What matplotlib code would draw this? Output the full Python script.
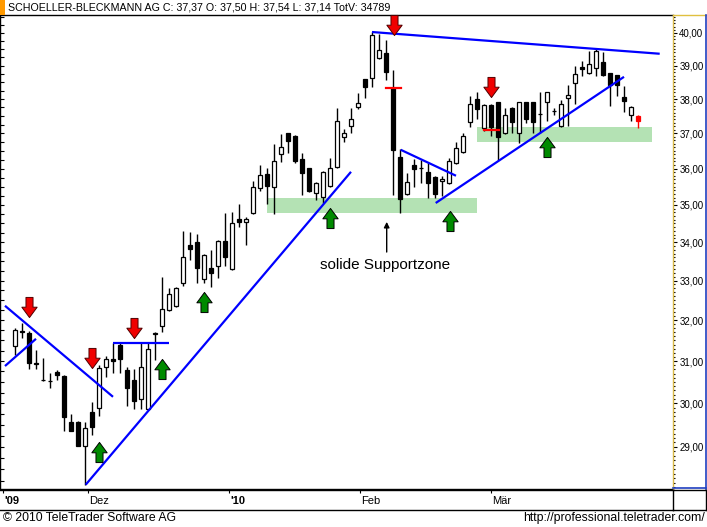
import matplotlib
matplotlib.use('Agg')
import matplotlib.pyplot as plt
from matplotlib.path import Path
from matplotlib.ticker import FixedLocator, NullFormatter, FixedFormatter, NullLocator
import matplotlib.patches as mpatches
from matplotlib.lines import Line2D
import numpy as np

# ---------------- data ----------------
title = "SCHOELLER-BLECKMANN AG C: 37,37 O: 37,50 H: 37,54 L: 37,14 TotV: 34789"

opens = [31.37, 31.72, 31.69, 30.96, 30.55, 30.53, 30.74, 30.64, 29.57, 29.57,
         29.02, 29.80, 29.89, 30.86, 31.04, 31.39, 30.79, 30.55, 30.10, 29.87,
         31.66, 31.86, 32.26, 32.36, 32.94, 33.93, 34.00, 33.04, 33.33, 33.38,
         34.03, 33.30, 34.62, 34.54, 34.78, 35.47, 35.85, 35.49, 36.41, 37.01,
         36.92, 36.27, 36.02, 35.33, 35.22, 35.52, 36.05, 36.90, 37.21, 37.77,
         38.60, 38.63, 39.23, 39.39, 38.33, 36.33, 35.30, 36.10, 36.03, 35.91,
         35.77, 35.66, 35.60, 36.16, 36.47, 37.33, 38.00, 37.15, 37.83, 37.91,
         37.01, 37.74, 37.01, 37.91, 37.91, 37.57, 37.91, 37.66, 37.21, 38.03,
         38.48, 38.96, 38.78, 38.93, 39.11, 38.78, 38.72, 38.06, 37.53, 37.50]
highs = [31.81, 31.93, 31.72, 31.27, 31.07, 30.72, 30.79, 30.66, 29.75, 29.58,
         29.57, 30.03, 30.91, 31.12, 31.44, 31.44, 30.86, 30.81, 31.44, 31.44,
         31.70, 33.09, 32.81, 32.84, 34.30, 34.27, 34.22, 33.68, 33.80, 34.06,
         34.78, 34.81, 35.03, 34.67, 35.66, 36.10, 36.02, 36.70, 36.98, 37.02,
         36.95, 36.44, 36.03, 35.63, 35.93, 36.30, 37.74, 37.12, 37.74, 38.18,
         38.61, 40.03, 39.97, 39.79, 38.87, 36.56, 35.88, 36.27, 36.24, 36.16,
         35.78, 35.80, 36.30, 36.75, 37.01, 38.09, 38.21, 37.84, 37.84, 37.92,
         37.74, 37.75, 37.92, 37.92, 37.92, 38.21, 38.22, 37.74, 37.97, 38.42,
         38.99, 39.14, 39.45, 39.51, 39.42, 38.79, 38.73, 38.39, 37.80, 37.54]
lows = [31.15, 31.56, 30.81, 30.81, 30.52, 30.36, 30.55, 29.36, 29.36, 29.02,
        28.16, 29.27, 29.71, 30.62, 30.72, 30.72, 29.94, 29.87, 29.87, 29.85,
        31.02, 31.71, 32.23, 32.33, 32.86, 33.54, 32.94, 32.94, 32.84, 33.07,
        33.38, 33.28, 34.41, 33.93, 34.76, 35.38, 35.03, 34.76, 36.19, 36.44,
        36.16, 35.27, 35.36, 35.14, 35.05, 35.50, 36.03, 36.75, 37.01, 37.71,
        38.03, 38.36, 39.21, 38.57, 35.27, 34.78, 35.28, 35.49, 35.60, 35.19,
        35.19, 35.25, 35.58, 36.13, 36.45, 37.18, 37.42, 37.07, 36.92, 36.24,
        36.99, 37.01, 36.72, 37.30, 37.01, 37.01, 37.36, 37.53, 37.19, 37.21,
        37.85, 38.69, 38.76, 38.69, 38.70, 37.80, 38.09, 37.62, 37.36, 37.14]
closes = [31.76, 31.70, 30.95, 30.94, 30.54, 30.52, 30.67, 29.68, 29.37, 29.03,
          29.43, 29.46, 30.83, 31.05, 31.01, 31.05, 30.36, 30.05, 30.86, 31.29,
          31.69, 32.28, 32.66, 32.81, 33.61, 33.82, 33.33, 33.67, 33.20, 34.03,
          33.61, 34.52, 34.54, 34.62, 35.49, 35.82, 35.52, 36.22, 36.61, 36.78,
          36.22, 35.88, 35.38, 35.60, 35.91, 36.02, 37.36, 37.01, 37.42, 37.88,
          38.36, 39.94, 39.48, 38.81, 36.53, 35.16, 35.63, 35.99, 36.01, 35.60,
          35.30, 35.71, 36.22, 36.58, 36.92, 37.85, 37.71, 37.83, 37.18, 36.90,
          37.53, 37.33, 37.91, 37.42, 37.33, 37.55, 38.21, 37.64, 37.85, 38.12,
          38.75, 38.90, 39.05, 39.45, 38.72, 38.42, 38.42, 37.94, 37.77, 37.37]

price_ticks = [29, 30, 31, 32, 33, 34, 35, 36, 37, 38, 39, 40]
date_labels = ["'09", "Dez", "'10", "Feb", "Mär"]
date_pos = [-1.7, 10.4, 30.6, 49.3, 68.0]
date_bold = [True, False, True, False, False]

# annotation data (index, price)
trend_lines = [
    [(-1.43, 32.36), (14.0, 30.15)],
    [(-1.43, 30.88), (3.0, 31.54)],
    [(14.0, 31.44), (22.0, 31.44)],
    [(10.1, 28.16), (48.0, 35.91)],
    [(51.0, 40.03), (92.1, 39.36)],
    [(55.1, 36.53), (63.0, 35.80)],
    [(60.1, 35.05), (87.0, 38.66)],
]
support_zones = [((36.0, 66.0), (34.78, 35.19)), ((66.0, 91.0), (36.75, 37.18))]
red_marks = [((53.0, 55.1), 38.33), ((67.0, 69.1), 37.10)]
down_arrows = [(2.0, 32.33), (11.0, 31.07), (17.0, 31.81), (54.1, 40.26), (68.0, 38.37)]
up_arrows = [(12.0, 28.89), (21.0, 30.82), (27.0, 32.45), (45.0, 34.65), (62.1, 34.57), (76.0, 36.61)]
note_text = "solide Supportzone"
note_pos = (52.9, 33.41)
note_arrow = ((53.1, 33.74), (53.1, 34.54))

# ---------------- figure ----------------
W, H = 707, 527
fig = plt.figure(figsize=(W / 100, H / 100), dpi=100)
fig.patch.set_facecolor('white')
SANS = ['Liberation Sans', 'DejaVu Sans']


def fx(px):
    return px / W


def fy(py):
    return 1 - py / H


x_lim = (-15 / 7, 658 / 7)
y_lim = (28.066, 40.563)

ax = fig.add_axes([fx(0), fy(489), fx(673), (489 - 15) / H])
ax.set_yscale('log')
ax.set_xlim(*x_lim)
ax.set_ylim(*y_lim)
ax.set_facecolor('white')

# support zones
for (x0, x1), (p0, p1) in support_zones:
    ax.add_patch(mpatches.Rectangle((x0, p0), x1 - x0, p1 - p0, facecolor='#B4E2B4',
                                    edgecolor='none', zorder=1))

# candles
n = len(opens)
for i in range(n):
    o, h, l, c = opens[i], highs[i], lows[i], closes[i]
    last = (i == n - 1)
    col = '#FF0000' if last else 'black'
    ax.vlines(i, l, h, color=col, lw=1.0, zorder=3)
    lo, hi = min(o, c), max(o, c)
    if last:
        face = '#FF0000'
    else:
        face = 'white' if c >= o else 'black'
    ax.bar(i, max(hi - lo, 0.005), bottom=lo, width=0.62, color=face,
           edgecolor=col, linewidth=0.9, zorder=4)

# trend lines
for pts in trend_lines:
    xs = [p[0] for p in pts]
    ys = [p[1] for p in pts]
    ax.plot(xs, ys, color='#0000FF', lw=1.6, zorder=5, solid_capstyle='butt')

# red marks
for (x0, x1), p in red_marks:
    ax.plot([x0, x1], [p, p], color='#FF0000', lw=1.6, zorder=6)

# block arrows
down_path = Path([(-0.35, 1), (0.35, 1), (0.35, 0.03), (0.76, 0.03), (0, -1),
                  (-0.76, 0.03), (-0.35, 0.03), (-0.35, 1)], closed=True)
up_path = Path([(-0.35, -1), (0.35, -1), (0.35, -0.03), (0.76, -0.03), (0, 1),
                (-0.76, -0.03), (-0.35, -0.03), (-0.35, -1)], closed=True)
for x, p in down_arrows:
    ax.plot([x], [p], marker=down_path, markersize=14.5, markerfacecolor='#F00000',
            markeredgecolor='#500000', markeredgewidth=0.7, linestyle='none',
            zorder=8, clip_on=False)
for x, p in up_arrows:
    ax.plot([x], [p], marker=up_path, markersize=14.5, markerfacecolor='#008A00',
            markeredgecolor='black', markeredgewidth=0.7, linestyle='none',
            zorder=8, clip_on=False)

# note
ax.annotate('', xy=note_arrow[1], xytext=note_arrow[0],
            arrowprops=dict(arrowstyle='-|>', color='black', lw=1.0,
                            mutation_scale=8, shrinkA=0, shrinkB=0), zorder=7)
ax.text(note_pos[0], note_pos[1], note_text, ha='center', va='center', fontsize=11,
        family=SANS, color='black', zorder=7)

# left ticks
ax.yaxis.set_major_locator(FixedLocator(np.arange(28.25, 40.6, 0.25)))
ax.yaxis.set_major_formatter(NullFormatter())
ax.yaxis.set_minor_locator(NullLocator())
ax.yaxis.set_minor_formatter(NullFormatter())
ax.tick_params(axis='y', which='major', direction='in', length=3, width=0.8,
               left=True, right=False, colors='black')
ax.set_xticks([])
ax.spines['right'].set_visible(False)
for s in ['top', 'bottom', 'left']:
    ax.spines[s].set_color('black')
    ax.spines[s].set_linewidth(1.0)

# right axis
ax_r = ax.twinx()
ax_r.set_yscale('log')
ax_r.set_ylim(*y_lim)
ax_r.yaxis.set_major_locator(FixedLocator(price_ticks))
ax_r.yaxis.set_major_formatter(FixedFormatter([f"{v:.2f}".replace('.', ',') for v in price_ticks]))
ax_r.yaxis.set_minor_locator(FixedLocator(np.arange(28.1, 40.56, 0.1)))
ax_r.yaxis.set_minor_formatter(NullFormatter())
ax_r.tick_params(axis='y', which='major', direction='out', length=3, width=0.8,
                 pad=1.5, labelsize=7, colors='black')
ax_r.tick_params(axis='y', which='minor', direction='out', length=1.5, width=0.8,
                 colors='black')
for lab in ax_r.get_yticklabels():
    lab.set_family(SANS)
for s in ['top', 'bottom', 'left']:
    ax_r.spines[s].set_visible(False)
ax_r.spines['right'].set_color('#D8B848')
ax_r.spines['right'].set_linewidth(1.0)

# right panel frame
fig.add_artist(Line2D([fx(673), fx(706)], [fy(15), fy(15)], color='#E0C040', lw=1.0))
fig.add_artist(Line2D([fx(705.5), fx(705.5)], [fy(15), fy(489)], color='#2040C0', lw=1.2))
fig.add_artist(Line2D([fx(673), fx(706)], [fy(488), fy(488)], color='#2040C0', lw=1.2))

# date band
ax_d = fig.add_axes([fx(0), fy(510), fx(673), (510 - 490) / H])
ax_d.set_xlim(*x_lim)
ax_d.set_ylim(0, 1)
ax_d.set_xticks([])
ax_d.set_yticks([])
ax_d.spines['left'].set_visible(False)
for s in ['top', 'bottom', 'right']:
    ax_d.spines[s].set_color('black')
    ax_d.spines[s].set_linewidth(1.0)
for lab, pos, b in zip(date_labels, date_pos, date_bold):
    ax_d.vlines(pos, 0.85, 1.0, color='black', lw=0.8)
    ax_d.text(pos + 0.15, 0.45, lab, ha='left', va='center', fontsize=8,
              fontweight='bold' if b else 'normal', family=SANS)
fig.add_artist(Line2D([fx(673), fx(706)], [fy(490), fy(490)], color='black', lw=1.0))
fig.add_artist(Line2D([fx(673), fx(706)], [fy(510), fy(510)], color='black', lw=1.0))
fig.add_artist(Line2D([fx(706), fx(706)], [fy(490), fy(510)], color='black', lw=1.0))

# title band
fig.add_artist(mpatches.Rectangle((0, fy(15)), fx(5), 15 / H, transform=fig.transFigure,
                                  facecolor='#FF9900', edgecolor='none'))
fig.text(fx(8), fy(8), title, ha='left', va='center', fontsize=7.7, family=SANS)

# footer
fig.text(fx(3), fy(518), "© 2010 TeleTrader Software AG", ha='left', va='center',
         fontsize=8.8, family=SANS)
fig.text(fx(705), fy(518), "http://professional.teletrader.com/", ha='right', va='center',
         fontsize=8.8, family=SANS)

fig.savefig('out.png', dpi=100, facecolor='white')
